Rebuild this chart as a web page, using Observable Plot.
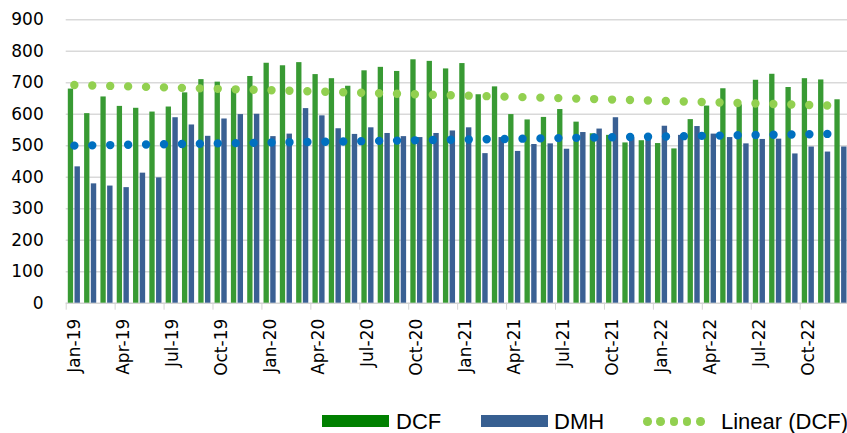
<!DOCTYPE html>
<html>
<head>
<meta charset="utf-8">
<script src="https://cdn.jsdelivr.net/npm/d3@7"></script>
<script src="https://cdn.jsdelivr.net/npm/@observablehq/plot@0.6"></script>
<style>
  html, body { margin: 0; padding: 0; background: #fff; }
  #chart svg { display: block; }
  #chart svg [aria-label^="x-axis"] { color: #d4d4d4; }
  #legend { position: relative; width: 847px; height: 33px; overflow: hidden; font-family: "Liberation Sans", Arial, sans-serif; font-size: 22px; color: #000; }
  #legend .sw { position: absolute; top: 15px; width: 67px; height: 12px; }
  #legend .lb { position: absolute; top: 11px; line-height: 22px; white-space: nowrap; }
  #legend .dot { position: absolute; width: 8.6px; height: 8.6px; border-radius: 50%; background: #92D050; top: 17.4px; }
</style>
</head>
<body>
<div id="chart"></div>
<div id="legend"></div>
<script>
const months = [
  "Jan-19","Feb-19","Mar-19","Apr-19","May-19","Jun-19","Jul-19","Aug-19","Sep-19","Oct-19","Nov-19","Dec-19",
  "Jan-20","Feb-20","Mar-20","Apr-20","May-20","Jun-20","Jul-20","Aug-20","Sep-20","Oct-20","Nov-20","Dec-20",
  "Jan-21","Feb-21","Mar-21","Apr-21","May-21","Jun-21","Jul-21","Aug-21","Sep-21","Oct-21","Nov-21","Dec-21",
  "Jan-22","Feb-22","Mar-22","Apr-22","May-22","Jun-22","Jul-22","Aug-22","Sep-22","Oct-22","Nov-22","Dec-22"
];
const dcf = [
  680, 602, 655, 625, 619, 607, 623, 668, 710, 702, 681, 720,
  762, 754, 764, 726, 713, 689, 738, 749, 736, 773, 768, 744,
  761, 662, 687, 599, 582, 590, 615, 575, 538, 533, 509, 516,
  507, 490, 583, 626, 681, 630, 708, 727, 685, 713, 709, 646
];
const dmh = [
  433, 379, 372, 367, 413, 398, 589, 566, 530, 585, 599, 600,
  529, 537, 618, 595, 554, 536, 557, 539, 529, 526, 539, 547,
  557, 475, 526, 482, 504, 506, 489, 542, 553, 589, 525, 530,
  562, 533, 561, 537, 526, 506, 520, 521, 474, 496, 480, 496
];
const yTicks = [0, 100, 200, 300, 400, 500, 600, 700, 800, 900];
const xLabelIdx = [0, 3, 6, 9, 12, 15, 18, 21, 24, 27, 30, 33, 36, 39, 42, 45];
const xTickBounds = [0, 3, 6, 9, 12, 15, 18, 21, 24, 27, 30, 33, 36, 39, 42, 45, 48];

const rows = months.map((m, i) => ({i, month: m, dcf: dcf[i], dmh: dmh[i]}));

const GREEN = "#389a33", BLUE = "#3a6093";

const chart = Plot.plot({
  width: 847,
  height: 400,
  marginLeft: 65.7,
  marginRight: 0,
  marginTop: 19.3,
  marginBottom: 97.3,
  style: {fontFamily: "DejaVu Sans", fontSize: "17px", color: "#000", background: "#fff", overflow: "visible"},
  x: {type: "linear", domain: [0, 48], range: [65.7, 848.6], ticks: xTickBounds, tickSize: 7, tickFormat: () => "", label: null},
  y: {domain: [0, 900], ticks: yTicks, tickSize: 0, tickPadding: 22.5, tickFormat: d => String(d), label: null},
  marks: [
    Plot.ruleY(yTicks.filter(v => v > 0), {stroke: "#d9d9d9", strokeWidth: 1.5}),
    Plot.ruleY([0], {stroke: "#d4d4d4", strokeWidth: 1.5}),
    Plot.rectY(rows, {x1: d => d.i, x2: d => d.i + 1, y: "dcf", fill: GREEN, insetLeft: 2.1, insetRight: 8.9}),
    Plot.rectY(rows, {x1: d => d.i, x2: d => d.i + 1, y: "dmh", fill: BLUE, insetLeft: 8.8, insetRight: 2.1}),
    Plot.linearRegressionY(rows, {x: d => d.i + 0.5, y: "dcf", ci: 0, stroke: "#92D050", strokeWidth: 8.4, strokeDasharray: "0 17.93", strokeLinecap: "round"}),
    Plot.linearRegressionY(rows, {x: d => d.i + 0.5, y: "dmh", ci: 0, stroke: "#0070C0", strokeWidth: 8.4, strokeDasharray: "0 17.93", strokeLinecap: "round"}),
    Plot.text(xLabelIdx, {x: d => d + 0.5, y: () => 0, text: d => months[d], rotate: -90, textAnchor: "end", dy: 15.5, fill: "#000", fontSize: 17})
  ]
});
document.getElementById("chart").appendChild(chart);

// legend
const legendItems = [
  {kind: "sw", color: "#008000", left: 322},
  {kind: "lb", text: "DCF", left: 396},
  {kind: "sw", color: "#375F91", left: 481},
  {kind: "lb", text: "DMH", left: 554},
  {kind: "dots", left: 643},
  {kind: "lb", text: "Linear (DCF)", left: 721}
];
const legend = document.getElementById("legend");
for (const it of legendItems) {
  if (it.kind === "sw") {
    const e = document.createElement("div");
    e.className = "sw"; e.style.left = it.left + "px"; e.style.background = it.color;
    legend.appendChild(e);
  } else if (it.kind === "lb") {
    const e = document.createElement("span");
    e.className = "lb"; e.style.left = it.left + "px"; e.textContent = it.text;
    legend.appendChild(e);
  } else {
    for (let k = 0; k < 5; k++) {
      const e = document.createElement("div");
      e.className = "dot"; e.style.left = (it.left + k * 13.3) + "px";
      legend.appendChild(e);
    }
  }
}
</script>
</body>
</html>
